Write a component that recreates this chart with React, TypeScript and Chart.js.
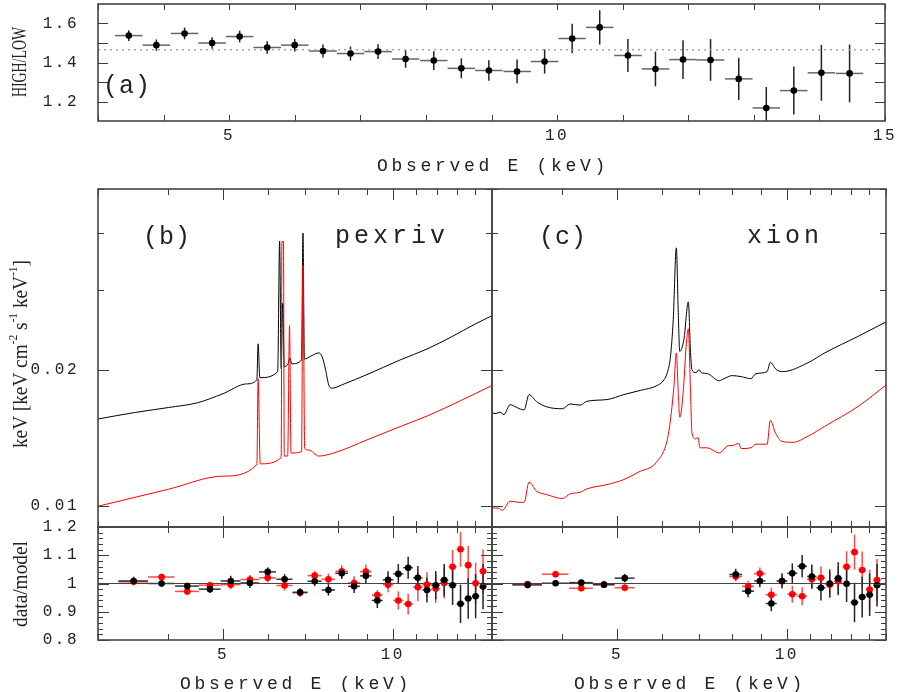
import React, { useEffect, useRef } from "react";
import { Chart, registerables } from "chart.js";
Chart.register(...registerables);

const W = 900;
const H = 692;
const MONO = '"Liberation Mono", "DejaVu Sans Mono", monospace';
const SERIF = '"Liberation Serif", "DejaVu Serif", serif';
const INK = "#222";

// ---------------- data ----------------
// energy bins (keV) shared by the ratio and residual data
const BIN_E = [3.47, 3.89, 4.32, 4.74, 5.16, 5.58, 6.0, 6.43, 6.85, 7.27, 7.69, 8.12, 8.54, 8.96, 9.39, 9.81, 10.23, 10.65, 11.08, 11.5, 11.92, 12.34, 12.77, 13.19, 13.61, 14.03, 14.46];
const BIN_HALF = 0.21;

// (a) HIGH/LOW ratio
const RATIO = [1.538, 1.489, 1.549, 1.5, 1.533, 1.477, 1.489, 1.459, 1.446, 1.456, 1.418, 1.41, 1.37, 1.359, 1.354, 1.405, 1.523, 1.58, 1.436, 1.367, 1.415, 1.413, 1.316, 1.167, 1.256, 1.347, 1.344];
const RATIO_ERR = [0.028, 0.029, 0.03, 0.03, 0.03, 0.032, 0.032, 0.033, 0.036, 0.038, 0.045, 0.048, 0.051, 0.053, 0.061, 0.062, 0.076, 0.088, 0.085, 0.089, 0.099, 0.107, 0.108, 0.107, 0.123, 0.143, 0.148];
const RATIO_MEAN = 1.466;

// (b) pexriv models  [E keV, keV^2 flux]
const PEXRIV_HIGH = [
  [3.0, 0.01557], [3.5, 0.0161], [4.0, 0.0165], [4.5, 0.0169], [5.0, 0.0177], [5.5, 0.0186], [5.74, 0.019],
  [5.77, 0.0228], [5.81, 0.0192], [6.25, 0.0198], [6.3, 0.0384], [6.34, 0.0201], [6.38, 0.028], [6.42, 0.0203],
  [6.52, 0.0206], [6.57, 0.0212], [6.62, 0.0206], [6.89, 0.021], [6.93, 0.04], [6.97, 0.0211], [7.15, 0.0214],
  [7.39, 0.02177], [7.49, 0.0214], [7.6, 0.02], [7.7, 0.0185], [7.8, 0.0182], [8.2, 0.0186], [9.0, 0.0195],
  [10.3, 0.021], [11.5, 0.0222], [12.7, 0.0236], [14.0, 0.0252], [15.0, 0.0263],
];
const PEXRIV_LOW = [
  [3.0, 0.01], [4.0, 0.0109], [5.0, 0.01165], [5.74, 0.01235], [5.77, 0.0191], [5.82, 0.0124], [6.34, 0.0128],
  [6.36, 0.0383], [6.4, 0.0383], [6.42, 0.0129], [6.51, 0.0129], [6.56, 0.025], [6.6, 0.0131], [6.89, 0.0132],
  [6.93, 0.034], [6.98, 0.0134], [7.1, 0.0133], [7.39, 0.0129], [7.86, 0.0131], [9.0, 0.014], [10.34, 0.015],
  [11.5, 0.0158], [12.7, 0.0167], [14.0, 0.0177], [15.0, 0.01845],
];

// (c) xion models
const XION_HIGH = [
  [3.0, 0.01606], [3.05, 0.016], [3.1, 0.01612], [3.15, 0.01592], [3.23, 0.01674], [3.32, 0.0165], [3.42, 0.0163],
  [3.49, 0.01762], [3.6, 0.017], [3.75, 0.01656], [4.0, 0.0164], [4.13, 0.0168], [4.3, 0.0167], [4.42, 0.01703],
  [4.8, 0.01718], [5.14, 0.01762], [5.5, 0.018], [5.89, 0.01845], [6.06, 0.019], [6.14, 0.0197], [6.22, 0.0214],
  [6.29, 0.02576], [6.37, 0.0371], [6.42, 0.0267], [6.46, 0.02194], [6.57, 0.0233], [6.69, 0.0282], [6.75, 0.0218],
  [6.79, 0.02], [6.9, 0.0197], [6.99, 0.02], [7.05, 0.0197], [7.23, 0.0196], [7.59, 0.0189], [7.74, 0.0191],
  [8.0, 0.0194], [8.3, 0.0193], [8.64, 0.0191], [8.82, 0.0196], [9.23, 0.0198], [9.35, 0.02075], [9.58, 0.02],
  [9.84, 0.0198], [10.9, 0.0207], [11.68, 0.02177], [13.39, 0.02368], [15.0, 0.02547],
];
const XION_LOW = [
  [3.0, 0.00991], [3.08, 0.0099], [3.13, 0.0098], [3.23, 0.01026], [3.35, 0.0102], [3.42, 0.0102], [3.49, 0.0113],
  [3.6, 0.01079], [3.75, 0.01061], [4.0, 0.0104], [4.13, 0.01065], [4.3, 0.01073], [4.42, 0.01092], [4.8, 0.01116],
  [5.14, 0.01145], [5.45, 0.01188], [5.89, 0.01256], [6.14, 0.01403], [6.24, 0.01606], [6.31, 0.0185], [6.37, 0.02177],
  [6.42, 0.0178], [6.46, 0.0157], [6.55, 0.0178], [6.63, 0.0225], [6.69, 0.0246], [6.75, 0.0178], [6.79, 0.0145],
  [6.9, 0.01407], [6.95, 0.0142], [7.02, 0.01345], [7.23, 0.01345], [7.59, 0.0131], [7.88, 0.0136], [8.0, 0.0136],
  [8.22, 0.01375], [8.3, 0.0134], [8.64, 0.01345], [8.82, 0.0137], [9.23, 0.0137], [9.35, 0.01546], [9.55, 0.0145],
  [9.8, 0.0139], [10.26, 0.01383], [10.9, 0.01426], [11.68, 0.015], [13.39, 0.0166], [15.0, 0.01849],
];

// residuals (data/model), pexriv fit: all bins
const RES_B_HIGH = [1.009, 1.0, 0.991, 0.98, 1.009, 1.002, 1.041, 1.015, 0.969, 1.008, 0.977, 1.036, 0.99, 1.027, 0.94, 1.013, 1.034, 1.056, 1.02, 0.977, 0.994, 1.012, 0.994, 0.928, 0.947, 0.955, 0.989];
const RES_B_HIGH_ERR = [0.015, 0.012, 0.012, 0.014, 0.018, 0.018, 0.016, 0.018, 0.014, 0.017, 0.02, 0.02, 0.024, 0.025, 0.027, 0.03, 0.035, 0.039, 0.042, 0.044, 0.05, 0.057, 0.07, 0.068, 0.072, 0.078, 0.08];
const RES_B_LOW = [1.006, 1.023, 0.972, 0.994, 0.996, 1.014, 1.02, 0.993, 0.967, 1.028, 1.015, 1.043, 1.002, 1.042, 0.959, 0.996, 0.94, 0.927, 0.987, 0.996, 0.982, 1.002, 1.059, 1.121, 1.065, 1.001, 1.043];
const RES_B_LOW_ERR = [0.012, 0.012, 0.012, 0.012, 0.016, 0.016, 0.016, 0.018, 0.014, 0.016, 0.02, 0.022, 0.024, 0.025, 0.018, 0.027, 0.032, 0.037, 0.05, 0.044, 0.05, 0.055, 0.06, 0.062, 0.068, 0.073, 0.078];

// residuals, xion fit: Fe-line bins left out
const RES_C_E = [3.47, 3.89, 4.32, 4.74, 5.16, 8.12, 8.54, 8.96, 9.39, 9.81, 10.23, 10.65, 11.08, 11.5, 11.92, 12.34, 12.77, 13.19, 13.61, 14.03, 14.46];
const RES_C_HIGH = [0.995, 1.001, 1.003, 0.996, 1.019, 1.032, 0.973, 1.009, 0.929, 1.009, 1.036, 1.061, 1.025, 0.985, 1.0, 1.018, 0.999, 0.933, 0.952, 0.96, 0.994];
const RES_C_HIGH_ERR = [0.012, 0.01, 0.01, 0.01, 0.015, 0.02, 0.022, 0.022, 0.027, 0.027, 0.035, 0.04, 0.042, 0.045, 0.05, 0.057, 0.065, 0.07, 0.072, 0.075, 0.075];
const RES_C_LOW = [0.998, 1.033, 0.983, 0.996, 0.985, 1.025, 0.99, 1.035, 0.96, 1.008, 0.962, 0.955, 1.015, 1.02, 0.996, 1.008, 1.059, 1.111, 1.048, 0.979, 1.012];
const RES_C_LOW_ERR = [0.01, 0.012, 0.01, 0.01, 0.012, 0.018, 0.02, 0.022, 0.025, 0.02, 0.03, 0.032, 0.035, 0.04, 0.045, 0.05, 0.055, 0.062, 0.065, 0.07, 0.075];

// ticks
const A_X_TICKS = [3, 4, 5, 6, 7, 8, 9, 10, 11, 12, 13, 14, 15];
const A_X_LABELS = [5, 10, 15];
const A_Y_TICKS = [1.2, 1.3, 1.4, 1.5, 1.6];
const A_Y_LABELS = [1.2, 1.4, 1.6];
const LOG_X_TICKS = [3, 4, 5, 6, 7, 8, 9, 10, 11, 12, 13, 14, 15];
const LOG_X_LABELS = [5, 10];
const FLUX_Y_TICKS = [0.01, 0.02, 0.03, 0.04, 0.05];
const FLUX_Y_LABELS = [0.01, 0.02];
const RES_Y_TICKS = [0.8, 0.9, 1, 1.1, 1.2];
const RES_Y_MINOR = [0.82, 0.84, 0.86, 0.88, 0.92, 0.94, 0.96, 0.98, 1.02, 1.04, 1.06, 1.08, 1.12, 1.14, 1.16, 1.18];

// ---------------- helpers ----------------
const pts = (arr) => arr.map(([x, y]) => ({ x, y }));
const zip = (xs, ys) => xs.map((x, i) => ({ x, y: ys[i] }));
const tickFont = { family: MONO, size: 16 };

function monoText(ctx, text, x, y, size, spacing, align = "left") {
  ctx.save();
  ctx.font = `${size}px ${MONO}`;
  ctx.letterSpacing = `${spacing}px`;
  ctx.fillStyle = INK;
  ctx.textAlign = align;
  ctx.textBaseline = "middle";
  ctx.fillText(text, x, y);
  ctx.restore();
}

function vertTitle(ctx, segs, cx, cy, len, size) {
  ctx.save();
  ctx.translate(cx, cy);
  ctx.rotate(-Math.PI / 2);
  ctx.letterSpacing = "0px";
  ctx.fillStyle = INK;
  ctx.textAlign = "left";
  ctx.textBaseline = "alphabetic";
  const f = (sup) => `${sup ? Math.round(size * 0.62) : size}px ${SERIF}`;
  let total = 0;
  const widths = segs.map((s) => {
    ctx.font = f(s.sup);
    const w = ctx.measureText(s.t).width;
    total += w;
    return w;
  });
  ctx.scale(len / total, 1);
  let x = -total / 2;
  segs.forEach((s, i) => {
    ctx.font = f(s.sup);
    ctx.fillText(s.t, x, s.sup ? -size * 0.5 : 0);
    x += widths[i];
  });
  ctx.restore();
}

function decorPlugin(d) {
  return {
    id: "decor",
    beforeDraw(chart) {
      chart.ctx.letterSpacing = "2.5px";
    },
    beforeDatasetsDraw(chart) {
      const ctx = chart.ctx;
      const a = chart.chartArea;
      const xs = chart.scales.x;
      const ys = chart.scales.y;
      ctx.save();
      ctx.beginPath();
      ctx.rect(a.left, a.top, a.right - a.left, a.bottom - a.top);
      ctx.clip();
      ctx.lineWidth = 1.5;
      for (const s of d.errs || []) {
        for (let i = 0; i < s.e.length; i++) {
          const x = xs.getPixelForValue(s.e[i]);
          const y = ys.getPixelForValue(s.v[i]);
          const x0 = xs.getPixelForValue(s.e[i] - s.half);
          const x1 = xs.getPixelForValue(s.e[i] + s.half);
          const y0 = ys.getPixelForValue(s.v[i] - s.err[i]);
          const y1 = ys.getPixelForValue(s.v[i] + s.err[i]);
          ctx.strokeStyle = s.hbar;
          ctx.beginPath();
          ctx.moveTo(x0, y);
          ctx.lineTo(x1, y);
          ctx.stroke();
          ctx.strokeStyle = s.vbar;
          ctx.beginPath();
          ctx.moveTo(x, y0);
          ctx.lineTo(x, y1);
          ctx.stroke();
        }
      }
      ctx.restore();
    },
    afterDraw(chart) {
      const ctx = chart.ctx;
      const a = chart.chartArea;
      const xs = chart.scales.x;
      const ys = chart.scales.y;
      ctx.save();
      ctx.letterSpacing = "0px";
      ctx.strokeStyle = "#3c3c3c";
      ctx.lineWidth = 1;
      const xt = (vals, len) => {
        for (const v of vals) {
          const p = Math.round(xs.getPixelForValue(v)) + 0.5;
          ctx.beginPath();
          ctx.moveTo(p, a.top);
          ctx.lineTo(p, a.top + len);
          ctx.moveTo(p, a.bottom);
          ctx.lineTo(p, a.bottom - len);
          ctx.stroke();
        }
      };
      const yt = (vals, len) => {
        for (const v of vals) {
          const p = Math.round(ys.getPixelForValue(v)) + 0.5;
          ctx.beginPath();
          ctx.moveTo(a.left, p);
          ctx.lineTo(a.left + len, p);
          ctx.moveTo(a.right, p);
          ctx.lineTo(a.right - len, p);
          ctx.stroke();
        }
      };
      xt(d.xMajor, d.xMajLen);
      xt(d.xMinor, d.xMinLen);
      yt(d.yMajor, d.yMajLen);
      yt(d.yMinor, d.yMinLen);
      ctx.lineWidth = 1.6;
      ctx.strokeStyle = "#444";
      ctx.strokeRect(a.left, a.top, a.right - a.left, a.bottom - a.top);
      ctx.restore();
      if (d.texts) d.texts(ctx, chart);
      ctx.letterSpacing = "0px";
    },
  };
}

function zeroPad(s) {
  s.paddingTop = 0;
  s.paddingBottom = 0;
  s.paddingLeft = 0;
  s.paddingRight = 0;
}

function xScale(type, min, max, ticks, labels, height, display = true) {
  return {
    type,
    min,
    max,
    display,
    afterBuildTicks: (s) => {
      s.ticks = ticks.map((v) => ({ value: v }));
    },
    afterFit: (s) => {
      s.height = display ? height : 0;
      zeroPad(s);
    },
    grid: { display: false },
    border: { display: false },
    ticks: {
      autoSkip: false,
      maxRotation: 0,
      padding: -3,
      font: tickFont,
      color: INK,
      callback: (v) => (labels.includes(v) ? String(v) : ""),
    },
  };
}

function yScale(type, min, max, ticks, labels, fmt, display = true) {
  return {
    type,
    min,
    max,
    display,
    afterBuildTicks: (s) => {
      s.ticks = ticks.map((v) => ({ value: v }));
    },
    afterFit: (s) => {
      s.width = display ? 98 : 0;
      zeroPad(s);
    },
    grid: { display: false },
    border: { display: false },
    ticks: {
      autoSkip: false,
      padding: 11,
      font: tickFont,
      color: INK,
      callback: (v) => (labels.includes(v) ? fmt(v) : ""),
    },
  };
}

const baseOptions = (padding) => ({
  responsive: false,
  animation: false,
  events: [],
  devicePixelRatio: 1,
  layout: { padding },
  plugins: { legend: { display: false }, tooltip: { enabled: false } },
});

const dots = (data, color) => ({
  data,
  showLine: false,
  pointRadius: 3.3,
  pointBackgroundColor: color,
  pointBorderWidth: 0,
});

const curve = (data, color) => ({
  data,
  borderColor: color,
  borderWidth: 1,
  pointRadius: 0,
  cubicInterpolationMode: "monotone",
});

function configA() {
  return {
    type: "line",
    data: {
      datasets: [
        dots(zip(BIN_E, RATIO), "#000"),
        {
          data: [{ x: 3, y: RATIO_MEAN }, { x: 15, y: RATIO_MEAN }],
          borderColor: "#a8a8a8",
          borderWidth: 1.5,
          borderDash: [2, 4],
          pointRadius: 0,
        },
      ],
    },
    options: {
      ...baseOptions({ left: 0, right: 15, top: 1, bottom: H - 180 }),
      scales: {
        x: xScale("linear", 3, 15, A_X_TICKS, A_X_LABELS, 59),
        y: yScale("linear", 1.1, 1.7, A_Y_TICKS, A_Y_LABELS, (v) => v.toFixed(1)),
      },
    },
    plugins: [
      decorPlugin({
        xMajor: A_X_TICKS, xMinor: [], xMajLen: 6, xMinLen: 6,
        yMajor: A_Y_TICKS, yMinor: [], yMajLen: 10, yMinLen: 6,
        errs: [{ e: BIN_E, v: RATIO, err: RATIO_ERR, half: BIN_HALF, hbar: "#666", vbar: "#222" }],
        texts: (ctx) => {
          monoText(ctx, "Observed E (keV)", 493, 166, 18, 3.7, "center");
          monoText(ctx, "(a)", 103, 86, 25, 1);
          vertTitle(ctx, [{ t: "HIGH/LOW" }], 26, 62, 70, 20);
        },
      }),
    ],
  };
}

function configFlux(high, low, isB) {
  return {
    type: "line",
    data: { datasets: [curve(pts(low), "#ff0000"), curve(pts(high), "#000")] },
    options: {
      ...baseOptions(isB ? { left: 0, right: W - 492, top: 189, bottom: H - 527 } : { left: 492, right: W - 886, top: 189, bottom: H - 527 }),
      scales: {
        x: xScale("logarithmic", 3, 15, LOG_X_TICKS, LOG_X_LABELS, 0, false),
        y: yScale("logarithmic", 0.009, 0.05, FLUX_Y_TICKS, FLUX_Y_LABELS, (v) => String(v), isB),
      },
    },
    plugins: [
      decorPlugin({
        xMajor: LOG_X_LABELS, xMinor: LOG_X_TICKS.filter((v) => !LOG_X_LABELS.includes(v)), xMajLen: 11, xMinLen: 6,
        yMajor: FLUX_Y_LABELS, yMinor: FLUX_Y_TICKS.filter((v) => !FLUX_Y_LABELS.includes(v)), yMajLen: 11, yMinLen: 6,
        errs: [],
        texts: (ctx) => {
          if (isB) {
            monoText(ctx, "(b)", 143, 237, 25, 1);
            monoText(ctx, "pexriv", 335, 236, 25, 4);
            vertTitle(
              ctx,
              [
                { t: "keV [keV cm" }, { t: "-2", sup: true }, { t: " s" }, { t: "-1", sup: true },
                { t: " keV" }, { t: "-1", sup: true }, { t: "]" },
              ],
              27, 354, 188, 20
            );
          } else {
            monoText(ctx, "(c)", 539, 237, 25, 1);
            monoText(ctx, "xion", 747, 236, 25, 4);
          }
        },
      }),
    ],
  };
}

function configRes(e, hi, hiErr, lo, loErr, isB) {
  return {
    type: "line",
    data: {
      datasets: [
        dots(zip(e, hi), "#000"),
        dots(zip(e, lo), "#ff0000"),
        {
          data: [{ x: 3, y: 1 }, { x: 15, y: 1 }],
          borderColor: "#444",
          borderWidth: 1,
          pointRadius: 0,
        },
      ],
    },
    options: {
      ...baseOptions(isB ? { left: 0, right: W - 492, top: 527, bottom: 0 } : { left: 492, right: W - 886, top: 527, bottom: 0 }),
      scales: {
        x: xScale("logarithmic", 3, 15, LOG_X_TICKS, LOG_X_LABELS, 52),
        y: yScale("linear", 0.8, 1.2, RES_Y_TICKS, RES_Y_TICKS, (v) => String(v), isB),
      },
    },
    plugins: [
      decorPlugin({
        xMajor: LOG_X_LABELS, xMinor: LOG_X_TICKS.filter((v) => !LOG_X_LABELS.includes(v)), xMajLen: 11, xMinLen: 6,
        yMajor: RES_Y_TICKS, yMinor: RES_Y_MINOR, yMajLen: 11, yMinLen: 5,
        errs: [
          { e, v: lo, err: loErr, half: BIN_HALF, hbar: "rgba(255,40,40,0.85)", vbar: "rgba(255,40,40,0.85)" },
          { e, v: hi, err: hiErr, half: BIN_HALF, hbar: "#333", vbar: "#222" },
        ],
        texts: (ctx) => {
          monoText(ctx, "Observed E (keV)", isB ? 296 : 690, 684, 18, 3.7, "center");
          if (isB) vertTitle(ctx, [{ t: "data/model" }], 27, 584, 86, 20);
        },
      }),
    ],
  };
}

export default function App() {
  const r0 = useRef(null);
  const r1 = useRef(null);
  const r2 = useRef(null);
  const r3 = useRef(null);
  const r4 = useRef(null);
  const refs = [r0, r1, r2, r3, r4];

  useEffect(() => {
    const charts = [
      new Chart(r0.current, configA()),
      new Chart(r1.current, configFlux(PEXRIV_HIGH, PEXRIV_LOW, true)),
      new Chart(r2.current, configFlux(XION_HIGH, XION_LOW, false)),
      new Chart(r3.current, configRes(BIN_E, RES_B_HIGH, RES_B_HIGH_ERR, RES_B_LOW, RES_B_LOW_ERR, true)),
      new Chart(r4.current, configRes(RES_C_E, RES_C_HIGH, RES_C_HIGH_ERR, RES_C_LOW, RES_C_LOW_ERR, false)),
    ];
    return () => charts.forEach((c) => c.destroy());
  }, []);

  return (
    <div style={{ position: "absolute", left: 0, top: 0, width: W, height: H, background: "#fff" }}>
      {refs.map((r, i) => (
        <canvas key={i} ref={r} width={W} height={H} style={{ position: "absolute", left: 0, top: 0 }} />
      ))}
    </div>
  );
}
